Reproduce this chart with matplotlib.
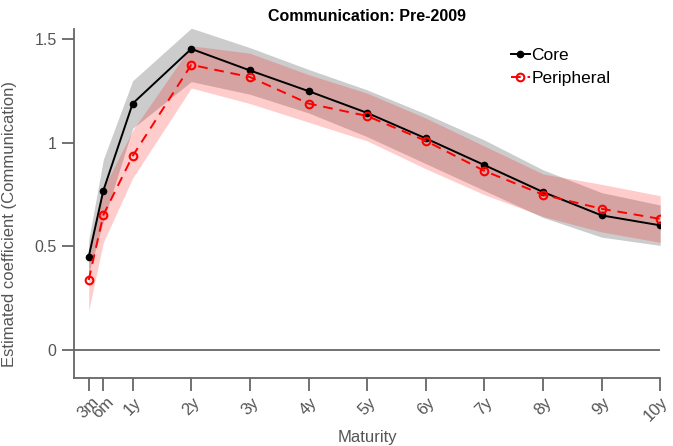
import matplotlib
matplotlib.use("Agg")
import matplotlib.pyplot as plt
import matplotlib.transforms as mtransforms

plt.rcParams['font.family'] = ['Liberation Sans', 'DejaVu Sans']

maturity = [0.25, 0.5, 1, 2, 3, 4, 5, 6, 7, 8, 9, 10]
tick_labels = ['3m', '6m', '1y', '2y', '3y', '4y', '5y', '6y', '7y', '8y', '9y', '10y']

core = [0.45, 0.77, 1.19, 1.454, 1.35, 1.25, 1.145, 1.022, 0.893, 0.763, 0.65, 0.602]
core_hi = [0.53, 0.92, 1.30, 1.554, 1.46, 1.355, 1.256, 1.14, 1.014, 0.87, 0.76, 0.70]
core_lo = [0.37, 0.62, 1.07, 1.296, 1.235, 1.145, 1.03, 0.90, 0.77, 0.64, 0.545, 0.505]

peri = [0.338, 0.652, 0.937, 1.377, 1.318, 1.19, 1.13, 1.01, 0.865, 0.75, 0.682, 0.633]
peri_hi = [0.48, 0.78, 1.06, 1.469, 1.433, 1.33, 1.24, 1.12, 0.985, 0.85, 0.80, 0.745]
peri_lo = [0.19, 0.52, 0.83, 1.265, 1.19, 1.10, 1.01, 0.875, 0.75, 0.645, 0.57, 0.52]

fig = plt.figure(figsize=(6.73, 4.46), dpi=100)
ax = fig.add_axes([0.110, 0.1525, 0.871, 0.7825])

ax.fill_between(maturity, core_lo, core_hi, color='black', alpha=0.2, linewidth=0)
ax.fill_between(maturity, peri_lo, peri_hi, color='red', alpha=0.2, linewidth=0)
ax.axhline(0, color='#666666', linewidth=1.3, zorder=1)

ax.plot(maturity, core, '-', color='black', linewidth=1.4, marker='o',
        markersize=4.5, markerfacecolor='black', label='Core', zorder=4)
ax.plot(maturity, peri, '--', color='red', linewidth=1.4, marker='o',
        markersize=5.5, markerfacecolor='none', markeredgewidth=1.5,
        label='Peripheral', zorder=5, dashes=(5, 3.5))

ax.set_xlim(0, 10)
ax.set_ylim(-0.135, 1.55)
ax.set_yticks([0, 0.5, 1, 1.5])
ax.set_yticklabels(['0', '0.5', '1', '1.5'])
ax.set_xticks(maturity)
ax.set_xticklabels(tick_labels, rotation=45, ha='center', va='top')

for s in ['top', 'right']:
    ax.spines[s].set_visible(False)
for s in ['left', 'bottom']:
    ax.spines[s].set_color('#666666')
    ax.spines[s].set_linewidth(1.3)

ax.tick_params(axis='both', direction='out', length=9, width=1.3, color='#666666',
               labelcolor='#555555')
ax.tick_params(axis='y', labelsize=11.5)
ax.tick_params(axis='x', labelsize=12, pad=3)

# nudge the last label so it stays inside the figure
last = ax.get_xticklabels()[-1]
last.set_transform(last.get_transform() +
                   mtransforms.ScaledTranslation(-4 / 100, 0, fig.dpi_scale_trans))

ax.set_xlabel('Maturity', fontsize=12, color='#555555', labelpad=4)
ax.set_ylabel('Estimated coefficient (Communication)', fontsize=12, color='#555555')
ax.yaxis.set_label_coords(-0.098, 0.44)
ax.set_title('Communication: Pre-2009', fontsize=11.5, fontweight='bold', pad=6)

leg = ax.legend(loc='upper left', bbox_to_anchor=(0.733, 0.965), frameon=False,
                fontsize=12.5, handlelength=1.1, handletextpad=0.1, labelspacing=0.45,
                borderaxespad=0.0)

fig.savefig('out.png', dpi=100)
